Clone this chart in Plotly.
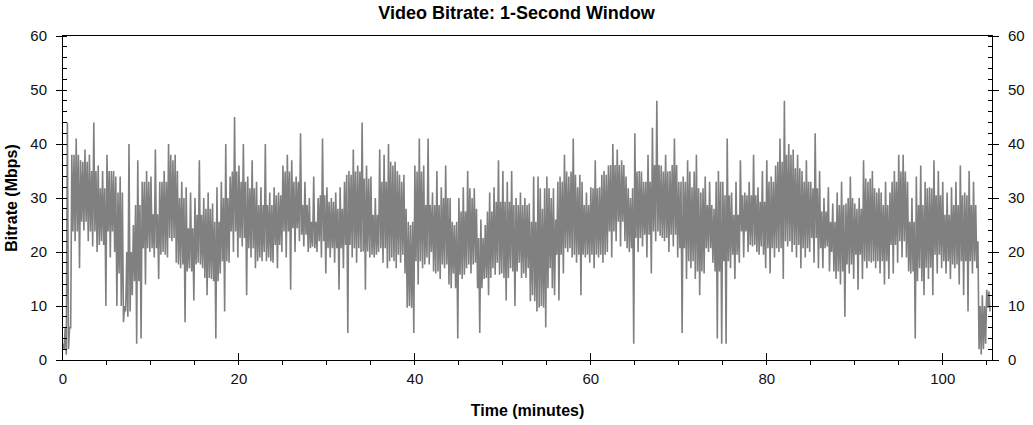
import plotly.graph_objects as go

# half-minute windows: upper and lower extent of the 1-second bitrate (Mbps)
STEP_MIN = 0.5
BITRATE_HIGH = [
    3, 44, 38, 41, 37, 39, 38, 44, 36, 35, 38, 35, 34, 34, 10, 40, 25, 37, 33, 35,
    34, 39, 33, 35, 40, 37, 35, 33, 32, 31, 30, 37, 30, 31, 29, 32, 33, 40, 34, 45,
    36, 40, 34, 37, 33, 32, 40, 31, 32, 31, 36, 38, 37, 34, 42, 33, 30, 34, 30, 41,
    32, 30, 31, 32, 33, 35, 39, 36, 44, 36, 34, 30, 39, 38, 40, 36, 35, 33, 28, 25,
    36, 41, 36, 41, 31, 35, 32, 36, 30, 25, 30, 32, 35, 30, 28, 26, 25, 31, 32, 37,
    35, 33, 35, 30, 31, 30, 29, 34, 34, 28, 34, 30, 26, 34, 38, 34, 41, 32, 33, 31,
    32, 37, 32, 35, 36, 40, 39, 37, 34, 30, 42, 35, 33, 38, 43, 48, 36, 38, 35, 41,
    33, 34, 37, 32, 38, 31, 34, 33, 28, 35, 33, 41, 31, 33, 37, 31, 33, 38, 32, 35,
    37, 34, 36, 41, 48, 40, 39, 38, 35, 37, 33, 42, 35, 30, 32, 29, 31, 33, 29, 34,
    29, 30, 37, 33, 35, 31, 31, 33, 31, 35, 38, 38, 33, 30, 34, 36, 33, 32, 37, 35,
    33, 31, 32, 33, 36, 31, 35, 33, 22, 12, 13,
]
BITRATE_LOW = [
    1, 6, 22, 17, 24, 22, 21, 20, 22, 10, 19, 20, 16, 7, 8, 12, 3, 4, 14, 20,
    19, 15, 20, 19, 22, 18, 17, 7, 17, 11, 18, 17, 12, 15, 4, 16, 9, 18, 20, 19,
    21, 12, 19, 17, 19, 20, 19, 18, 17, 20, 19, 13, 20, 22, 21, 20, 21, 20, 19, 16,
    19, 18, 13, 17, 5, 19, 18, 20, 13, 19, 19, 20, 18, 17, 19, 17, 18, 16, 10, 5,
    14, 17, 19, 20, 16, 15, 17, 14, 16, 4, 15, 17, 16, 18, 5, 15, 12, 17, 18, 16,
    11, 17, 10, 18, 16, 17, 12, 9, 10, 6, 17, 12, 11, 16, 20, 19, 18, 12, 19, 18,
    17, 19, 18, 20, 19, 22, 21, 22, 20, 3, 20, 21, 19, 16, 22, 23, 22, 20, 21, 19,
    5, 15, 17, 15, 12, 16, 20, 18, 4, 3, 3, 17, 15, 18, 19, 20, 21, 20, 21, 17,
    16, 19, 20, 15, 21, 20, 19, 17, 19, 20, 18, 17, 17, 21, 20, 15, 14, 8, 16, 15,
    13, 15, 17, 18, 17, 16, 14, 15, 16, 18, 19, 19, 16, 4, 17, 12, 15, 12, 16, 17,
    16, 15, 17, 14, 12, 9, 16, 17, 1, 3, 9,
]

# one-minute windows: dense core of the trace (Mbps)
CORE_HIGH = [
    6, 38, 36.7, 35, 31.8, 35, 31, 20, 28.7, 33,
    27, 33, 38, 30, 24.4, 26.9, 28, 25.6, 30, 34.9,
    33, 31.8, 28.7, 28.7, 30.5, 34.9, 33, 28.7, 25.6, 30.5,
    29.3, 28, 34.3, 34.9, 33.6, 26.9, 33, 36.7, 34.3, 25.6,
    34.9, 28.7, 28.7, 30, 25.6, 27.5, 31.8, 22.6, 27.5, 29.3,
    29.3, 28.7, 28.7, 25.6, 31.8, 31.8, 33, 34.9, 34.3, 28.7,
    31.8, 34.3, 36.1, 36.1, 31.8, 34.9, 33, 36.1, 34.9, 36.1,
    33, 34.9, 31.8, 28.7, 33, 30.5, 26.9, 30.5, 30.5, 29.3,
    33, 36.7, 38, 35.5, 33, 31.8, 27.5, 25.6, 28.7, 30,
    28, 33.6, 31.8, 28.7, 33, 34.9, 25.6, 28.7, 31.8, 30.5,
    26.9, 28.7, 30.5, 28.7, 10, 12.7,
]
CORE_LOW = [
    2, 23.8, 25.6, 23.8, 21.3, 23.8, 10, 9, 14.6, 20.7,
    20.7, 19.5, 22.6, 17.7, 16.4, 17.7, 15.2, 14.6, 18.3, 23.8,
    22.6, 20.7, 18.3, 18.3, 21.3, 23.8, 24.4, 23.2, 20.7, 22,
    20.7, 20.7, 21.3, 20.7, 20.1, 19.5, 20.7, 18.3, 19.5, 9.7,
    18.3, 17.7, 16.4, 17.7, 13.3, 15.8, 17.7, 13.3, 15.2, 15.8,
    15.2, 16.4, 15.2, 10.9, 9.7, 13.3, 19.5, 20.7, 19.5, 19.5,
    19.5, 19.5, 23.8, 25.6, 20.7, 22.6, 23.2, 23.8, 22.6, 23.2,
    20.7, 18.3, 16.4, 20.7, 16.4, 18.3, 19.5, 23.8, 21.3, 19.5,
    20.7, 20.7, 22, 21.3, 20.7, 22.6, 20.7, 16.4, 16.4, 17.7,
    19.5, 18.3, 18.3, 18.3, 21.3, 22, 16.4, 14.6, 17.1, 19.5,
    18.3, 17.7, 18.3, 18.3, 2, 9.7,
]

X_MAX = 105.6
Y_MAX = 60
TRACE_GREY = "#808080"
FONT = "Liberation Sans, Arial, sans-serif"

# each half-minute window: peak -> core low -> core high -> dip
times = []
rates = []
for i, (hi, lo) in enumerate(zip(BITRATE_HIGH, BITRATE_LOW)):
    t = i * STEP_MIN
    minute = min(int(t), len(CORE_HIGH) - 1)
    q = STEP_MIN / 4
    times += [t, t + q, t + 2 * q, t + 3 * q]
    rates += [hi, CORE_LOW[minute], CORE_HIGH[minute], lo]

fig = go.Figure()
fig.add_trace(
    go.Scatter(
        x=times, y=rates, mode="lines",
        line={"color": TRACE_GREY, "width": 1.6, "simplify": False},
        showlegend=False, hoverinfo="skip",
    )
)
# empty trace so the right-hand axis gets drawn
fig.add_trace(
    go.Scatter(x=[None], y=[None], yaxis="y2", mode="lines", showlegend=False, hoverinfo="skip")
)

axis_common = {
    "showline": True,
    "linecolor": "black",
    "linewidth": 1,
    "showgrid": False,
    "zeroline": False,
    "automargin": False,
    "tickcolor": "black",
    "tickfont": {"family": FONT, "size": 15, "color": "#111"},
}
y_ticks = {
    "range": [0, Y_MAX],
    "tickmode": "linear",
    "tick0": 0,
    "dtick": 10,
    "ticks": "outside",
    "ticklen": 6,
    "ticklabelstandoff": 6,
    "minor": {"dtick": 2, "ticks": "inside", "ticklen": 4, "tickcolor": "black"},
}

fig.update_layout(
    width=1033,
    height=425,
    paper_bgcolor="white",
    plot_bgcolor="white",
    margin={"l": 63, "r": 41, "t": 36, "b": 65},
    font={"family": FONT, "color": "black"},
    title={
        "text": "<b>Video Bitrate: 1-Second Window</b>",
        "x": 0.5,
        "xref": "container",
        "y": 0.969,
        "yanchor": "middle",
        "font": {"family": FONT, "size": 18, "color": "black"},
    },
    xaxis={
        **axis_common,
        "range": [0, X_MAX],
        "tickmode": "linear",
        "tick0": 0,
        "dtick": 20,
        "ticks": "inside",
        "ticklen": 7,
        "ticklabelstandoff": 5,
        "mirror": True,
        "minor": {"dtick": 5, "ticks": "outside", "ticklen": 4, "tickcolor": "black"},
        "title": {"text": "<b>Time (minutes)</b>", "font": {"family": FONT, "size": 16}, "standoff": 18},
    },
    yaxis={
        **axis_common,
        **y_ticks,
        "title": {"text": "<b>Bitrate (Mbps)</b>", "font": {"family": FONT, "size": 16}, "standoff": 8},
    },
    yaxis2={
        **axis_common,
        **y_ticks,
        "overlaying": "y",
        "side": "right",
    },
)

# drop the default 8px page margin so the figure fills the window exactly
fig.write_html(
    "out.html",
    config={"displayModeBar": False},
    post_script="document.body.style.margin = '0';",
)
